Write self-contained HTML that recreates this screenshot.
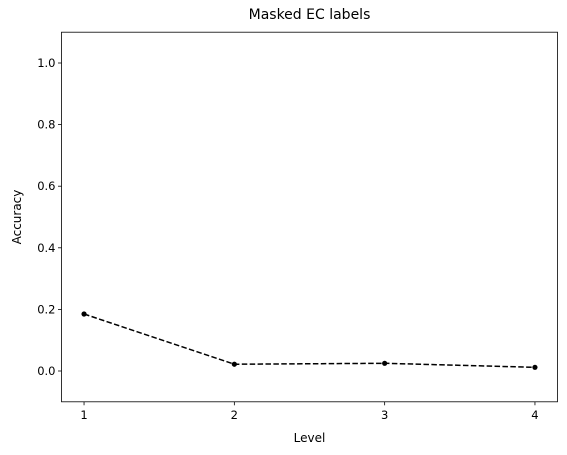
<!DOCTYPE html>
<html><head><meta charset="utf-8"><style>
body{margin:0;background:#fff;}
svg{display:block;font-family:"DejaVu Sans","Liberation Sans",sans-serif;}
</style></head><body>
<svg id="chart" width="567" height="455">
<rect x="0" y="0" width="567" height="455" fill="#fff"/>
<g id="plot"></g>
</svg>
<script>
const categories=[1,2,3,4];
const accuracy=[0.185,0.022,0.025,0.012];
const yTicks=[0.0,0.2,0.4,0.6,0.8,1.0];
const yTickLabels=["0.0","0.2","0.4","0.6","0.8","1.0"];
const L=61.5,R=557.5,T=32.2,B=401.8;
const xMin=0.85,xMax=4.15,yMin=-0.1,yMax=1.1;
const xs=v=>L+(v-xMin)/(xMax-xMin)*(R-L);
const ys=v=>B-(v-yMin)/(yMax-yMin)*(B-T);
const g=document.getElementById('plot');
const NS='http://www.w3.org/2000/svg';
function mk(tag,attrs,parent){const e=document.createElementNS(NS,tag);for(const k in attrs)e.setAttribute(k,attrs[k]);(parent||g).appendChild(e);return e;}
const pts=categories.map((c,i)=>xs(c)+','+ys(accuracy[i])).join(' ');
const line=mk('polyline',{points:pts,fill:'none',stroke:'#000','stroke-width':1.5,'stroke-dasharray':'5.5,2.4'});


categories.forEach((c,i)=>{
 const p=mk('circle',{cx:xs(c),cy:ys(accuracy[i]),r:2.6,fill:'#000'});
 
 
});
const fr=mk('rect',{x:L,y:T,width:R-L,height:B-T,fill:'none',stroke:'#000','stroke-width':0.8});


categories.forEach(c=>{
 const t=mk('line',{x1:xs(c),x2:xs(c),y1:B,y2:B+3.5,stroke:'#000','stroke-width':0.8});
 
 
 const tx=mk('text',{x:xs(c),y:B+17,'text-anchor':'middle','font-size':'11.5px'});
 tx.textContent=c;
 
 
});
yTicks.forEach((v,i)=>{
 const t=mk('line',{x1:L-3.5,x2:L,y1:ys(v),y2:ys(v),stroke:'#000','stroke-width':0.8});
 
 
 const tx=mk('text',{x:L-6,y:ys(v)+4,'text-anchor':'end','font-size':'11.5px'});
 tx.textContent=yTickLabels[i];
 
 
});
</script>
<div style="position:absolute;left:0;top:0;width:567px;height:455px;pointer-events:none;font-family:'DejaVu Sans','Liberation Sans',sans-serif;">
<div style="position:absolute;left:61px;width:497px;top:7px;text-align:center;font-size:14px;">Masked EC labels</div>
<div style="position:absolute;left:61px;width:497px;top:431px;text-align:center;font-size:12px;">Level</div>
<div style="position:absolute;left:-13px;top:210px;width:60px;text-align:center;font-size:12px;transform:rotate(-90deg);">Accuracy</div>
</div>
</body></html>
